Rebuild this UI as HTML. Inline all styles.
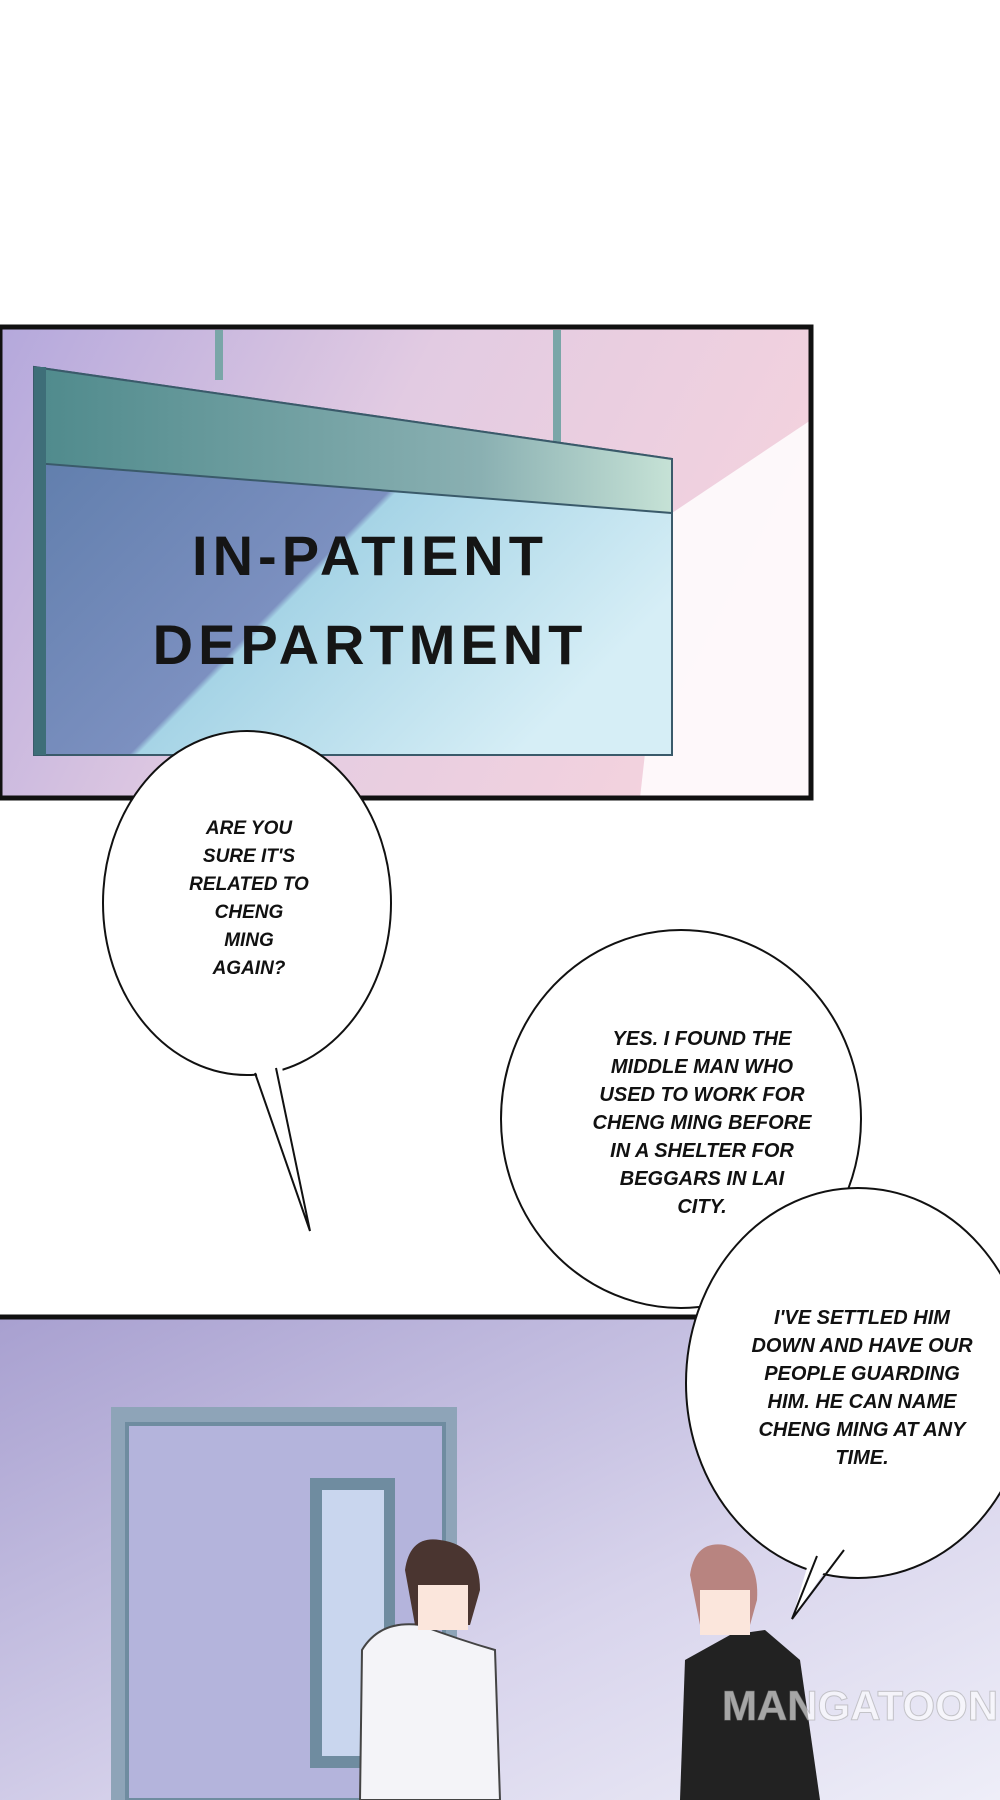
<!DOCTYPE html>
<html><head><meta charset="utf-8"><style>
body{margin:0;width:1000px;height:1800px;background:#fff;overflow:hidden;position:relative;font-family:"Liberation Sans",sans-serif}
.t{position:absolute;text-align:center;font-weight:bold;font-style:italic;font-size:19px;line-height:28px;color:#111;transform:translateX(-50%);white-space:nowrap}
</style></head><body>
<svg width="1000" height="1800" style="position:absolute;left:0;top:0">
<defs>
<linearGradient id="bg1" x1="0" y1="0" x2="1" y2="0.3"><stop offset="0" stop-color="#b4a8dc"/><stop offset="0.5" stop-color="#e2cbe2"/><stop offset="1" stop-color="#f3d2de"/></linearGradient>
<linearGradient id="sg" x1="0" y1="0" x2="1" y2="0.6"><stop offset="0" stop-color="#5a7aa8"/><stop offset="0.55" stop-color="#7c90c0"/><stop offset="0.56" stop-color="#a6d4e6"/><stop offset="1" stop-color="#d6eef6"/></linearGradient>
<linearGradient id="sg2" x1="0" y1="0" x2="1" y2="0"><stop offset="0" stop-color="#4f8a8c"/><stop offset="0.7" stop-color="#8ab0b2"/><stop offset="1" stop-color="#c6e2d6"/></linearGradient>
<linearGradient id="bg2" x1="0" y1="0" x2="1" y2="1"><stop offset="0" stop-color="#a8a0d0"/><stop offset="0.6" stop-color="#d8d4ec"/><stop offset="1" stop-color="#eeeef8"/></linearGradient>
</defs>
<rect x="0" y="327" width="811" height="471" fill="url(#bg1)"/>
<polygon points="811,420 811,798 640,798 672,513" fill="#fff" opacity="0.85"/>
<rect x="215" y="330" width="8" height="50" fill="#7aa6a8"/>
<rect x="553" y="330" width="8" height="115" fill="#7aa6a8"/>
<polygon points="34,367 672,459 672,755 34,755" fill="url(#sg)" stroke="#3a5a6a" stroke-width="2"/>
<polygon points="34,367 672,459 672,513 34,463" fill="url(#sg2)" stroke="#3a5a6a" stroke-width="2"/>
<rect x="34" y="367" width="12" height="388" fill="#3e6e78"/>
<rect x="0" y="327" width="811" height="471" fill="none" stroke="#111" stroke-width="5"/>
<rect x="0" y="1317" width="1000" height="483" fill="url(#bg2)"/>
<line x1="0" y1="1317" x2="1000" y2="1317" stroke="#111" stroke-width="5"/>
<rect x="111" y="1407" width="346" height="393" fill="#8ea4b8"/>
<rect x="127" y="1424" width="317" height="376" fill="#b4b4dc" stroke="#6f8ca0" stroke-width="4"/>
<rect x="310" y="1478" width="85" height="290" fill="#6f8ca0"/>
<rect x="322" y="1490" width="62" height="266" fill="#c9d6ee"/>
<path d="M360,1800 L362,1650 Q380,1620 420,1625 Q460,1640 495,1650 L500,1800Z" fill="#f4f4f8" stroke="#444" stroke-width="2"/>
<path d="M405,1570 Q410,1535 440,1540 Q480,1545 480,1590 L470,1625 L415,1625Z" fill="#4a3530"/>
<rect x="418" y="1585" width="50" height="45" fill="#fbe6dc"/>
<path d="M680,1800 L685,1660 L730,1635 L765,1630 L800,1660 L820,1800Z" fill="#222"/>
<path d="M690,1575 Q695,1540 725,1545 Q760,1555 757,1600 L750,1625 L700,1625Z" fill="#b88480"/>
<rect x="700" y="1590" width="50" height="45" fill="#fbe6dc"/>
<g fill="#fff" stroke="#111" stroke-width="2">
<ellipse cx="247" cy="903" rx="144" ry="172"/>
<ellipse cx="681" cy="1119" rx="180" ry="189"/>
<ellipse cx="858" cy="1383" rx="172" ry="195"/>
</g>
<polygon points="252,1060 310,1231 280,1055" fill="#fff"/>
<polyline points="255,1073 310,1231 276,1068" fill="none" stroke="#111" stroke-width="2"/>
<polygon points="815,1540 792,1619 850,1535" fill="#fff"/>
<polyline points="817,1556 792,1619 844,1550" fill="none" stroke="#111" stroke-width="2"/>
<text x="860" y="1720" font-family="Liberation Sans" font-weight="bold" font-size="42" fill="#fff" fill-opacity="0.6" stroke="#999" stroke-opacity="0.5" text-anchor="middle">MANGATOON</text>
</svg>
<div style="position:absolute;left:70px;top:511px;width:600px;text-align:center;font-weight:bold;font-size:56px;line-height:89px;color:#151515;letter-spacing:5px">IN-PATIENT<br>DEPARTMENT</div>
<div class="t" style="left:249px;top:815px">ARE YOU<br>SURE IT'S<br>RELATED TO<br>CHENG<br>MING<br>AGAIN?</div>
<div class="t" style="left:702px;top:1025px;font-size:20px">YES. I FOUND THE<br>MIDDLE MAN WHO<br>USED TO WORK FOR<br>CHENG MING BEFORE<br>IN A SHELTER FOR<br>BEGGARS IN LAI<br>CITY.</div>
<div class="t" style="left:862px;top:1304px;font-size:20px">I'VE SETTLED HIM<br>DOWN AND HAVE OUR<br>PEOPLE GUARDING<br>HIM. HE CAN NAME<br>CHENG MING AT ANY<br>TIME.</div>
</body></html>
